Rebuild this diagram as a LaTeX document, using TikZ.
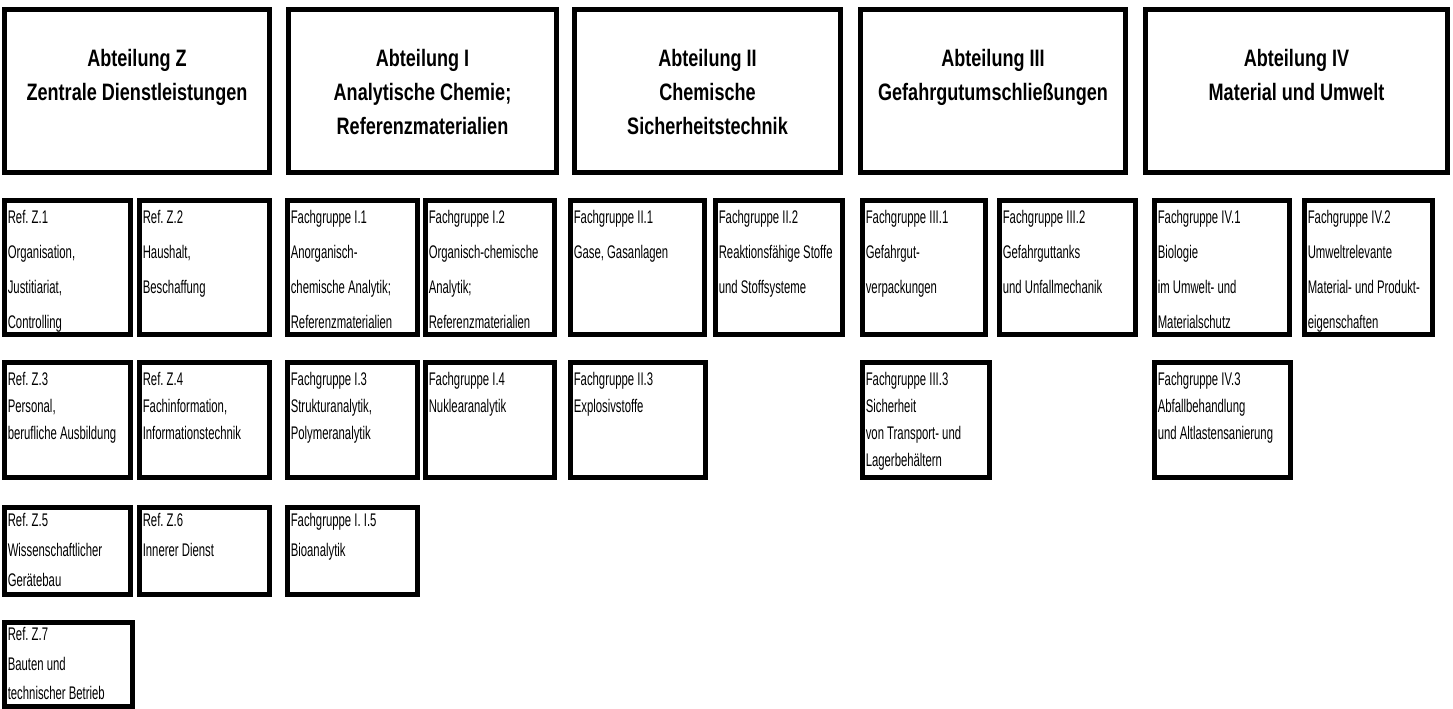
\documentclass[tikz,border=0pt]{standalone}
\usepackage{fontspec}
\usepackage{tikz}
\newfontfamily\reffont{Liberation Sans}[FakeStretch=0.62]
\newfontfamily\headfont{Liberation Sans}[FakeStretch=0.76]
\frenchspacing

\begin{document}
\begin{tikzpicture}[x=0.025cm,y=-0.025cm,
  box/.style={draw=black,line width=0.125cm},
  headtext/.style={font=\headfont\bfseries\fontsize{16.9pt}{24.2pt}\selectfont,align=center,anchor=north,inner sep=0pt},
  reftext/.style={font=\reffont\fontsize{13pt}{#1}\selectfont,align=left,anchor=north west,inner sep=0pt},
  reftext/.default=24.9pt]
\useasboundingbox (0,0) rectangle (1453,709);

% Abteilungen
\draw[box] (4.5,9.5) rectangle (269.5,172.5);
\draw[box] (288.5,9.5) rectangle (556.5,172.5);
\draw[box] (574.5,9.5) rectangle (840.5,172.5);
\draw[box] (860.5,9.5) rectangle (1125.5,172.5);
\draw[box] (1145.5,9.5) rectangle (1447.5,172.5);
\node[headtext] (hz) at (137,49) {Abteilung Z\\Zentrale Dienstleistungen};
\node[headtext] (hi) at (422.5,49) {Abteilung I\\Analytische Chemie;\\Referenzmaterialien};
\node[headtext] (hii) at (707.5,49) {Abteilung II\\Chemische\\Sicherheitstechnik};
\node[headtext] (hiii) at (993,49) {Abteilung III\\Gefahrgutumschließungen};
\node[headtext] (hiv) at (1296.5,49) {Abteilung IV\\Material und Umwelt};

% erste Reihe
\draw[box] (4.5,200.5) rectangle (130.5,334.5);
\draw[box] (139.5,200.5) rectangle (269.5,334.5);
\draw[box] (287.5,200.5) rectangle (417.5,334.5);
\draw[box] (425.5,200.5) rectangle (554.5,334.5);
\draw[box] (570.5,200.5) rectangle (704.5,334.5);
\draw[box] (715.5,200.5) rectangle (842.5,334.5);
\draw[box] (862.5,200.5) rectangle (985.5,334.5);
\draw[box] (999.5,200.5) rectangle (1135.5,334.5);
\draw[box] (1154.5,200.5) rectangle (1289.5,334.5);
\draw[box] (1304.5,200.5) rectangle (1432.5,334.5);
\node[reftext] (z1) at (7.5,210) {Ref. Z.1\\Organisation,\\Justitiariat,\\Controlling};
\node[reftext] (z2) at (142.5,210) {Ref. Z.2\\Haushalt,\\Beschaffung};
\node[reftext] (i1) at (290.5,210) {Fachgruppe I.1\\Anorganisch-\\chemische Analytik;\\Referenzmaterialien};
\node[reftext] (i2) at (428.5,210) {Fachgruppe I.2\\Organisch-chemische\\Analytik;\\Referenzmaterialien};
\node[reftext] (ii1) at (573.5,210) {Fachgruppe II.1\\Gase, Gasanlagen};
\node[reftext] (ii2) at (718.5,210) {Fachgruppe II.2\\Reaktionsfähige Stoffe\\und Stoffsysteme};
\node[reftext] (iii1) at (865.5,210) {Fachgruppe III.1\\Gefahrgut-\\verpackungen};
\node[reftext] (iii2) at (1002.5,210) {Fachgruppe III.2\\Gefahrguttanks\\und Unfallmechanik};
\node[reftext] (iv1) at (1157.5,210) {Fachgruppe IV.1\\Biologie\\im Umwelt- und\\Materialschutz};
\node[reftext] (iv2) at (1307.5,210) {Fachgruppe IV.2\\Umweltrelevante\\Material- und Produkt-\\eigenschaften};

% zweite Reihe
\draw[box] (4.5,362.5) rectangle (130.5,477.5);
\draw[box] (139.5,362.5) rectangle (269.5,477.5);
\draw[box] (287.5,362.5) rectangle (417.5,477.5);
\draw[box] (425.5,362.5) rectangle (554.5,477.5);
\draw[box] (570.5,362.5) rectangle (705.5,477.5);
\draw[box] (862.5,362.5) rectangle (989.5,477.5);
\draw[box] (1154.5,362.5) rectangle (1290.5,477.5);
\node[reftext=19.2pt] (z3) at (7.5,372) {Ref. Z.3\\Personal,\\berufliche Ausbildung};
\node[reftext=19.2pt] (z4) at (142.5,372) {Ref. Z.4\\Fachinformation,\\Informationstechnik};
\node[reftext=19.2pt] (i3) at (290.5,372) {Fachgruppe I.3\\Strukturanalytik,\\Polymeranalytik};
\node[reftext=19.2pt] (i4) at (428.5,372) {Fachgruppe I.4\\Nuklearanalytik};
\node[reftext=19.2pt] (ii3) at (573.5,372) {Fachgruppe II.3\\Explosivstoffe};
\node[reftext=19.2pt] (iii3) at (865.5,372) {Fachgruppe III.3\\Sicherheit\\von Transport- und\\Lagerbehältern};
\node[reftext=19.2pt] (iv3) at (1157.5,372) {Fachgruppe IV.3\\Abfallbehandlung\\und Altlastensanierung};

% dritte und vierte Reihe
\draw[box] (4.5,507.5) rectangle (130.5,594.5);
\draw[box] (139.5,507.5) rectangle (269.5,594.5);
\draw[box] (287.5,507.5) rectangle (417.5,594.5);
\draw[box] (4.5,622.5) rectangle (132.5,706.5);
\node[reftext=21.3pt] (z5) at (7.5,513) {Ref. Z.5\\Wissenschaftlicher\\Gerätebau};
\node[reftext=21.3pt] (z6) at (142.5,513) {Ref. Z.6\\Innerer Dienst};
\node[reftext=21.3pt] (i5) at (290.5,513) {Fachgruppe I. I.5\\Bioanalytik};
\node[reftext=21pt] (z7) at (7.5,627) {Ref. Z.7\\Bauten und\\technischer Betrieb};

\end{tikzpicture}
\end{document}
